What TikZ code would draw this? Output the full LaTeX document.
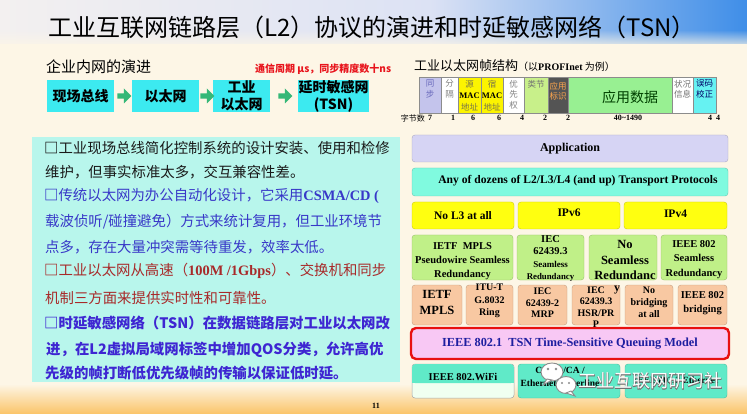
\documentclass[tikz,border=0pt]{standalone}
\usepackage{fontspec}
\setmainfont{Liberation Serif}
\newfontfamily\cjk{Noto Sans CJK SC}
\newfontfamily\markoutline{Noto Sans CJK SC}[FakeBold=4]
\usetikzlibrary{shapes.arrows,calc,fadings}
\newcommand\fsz[2]{\fontsize{#1}{#2}\selectfont}
\newcommand\bsq{{\bfseries □}}

\definecolor{bgcream}{HTML}{FDF6E6}
\definecolor{bandlight}{HTML}{F3F0F0}
\definecolor{bandmid}{HTML}{DCE2F4}
\definecolor{bandblue}{HTML}{3F8EE8}
\definecolor{footorange}{HTML}{FBC468}
\definecolor{evocyan}{HTML}{3CEAF0}
\definecolor{evogreen}{HTML}{35B877}
\definecolor{notered}{HTML}{E8141C}
\definecolor{textpanel}{HTML}{B8F6EC}
\definecolor{lineblack}{HTML}{1A1A1A}
\definecolor{lineblue}{HTML}{3838C8}
\definecolor{linered}{HTML}{A82A2A}
\definecolor{lineviolet}{HTML}{3E26D2}
\definecolor{syncfill}{HTML}{C4C4EC}
\definecolor{macyellow}{HTML}{FCF400}
\definecolor{typegreen}{HTML}{C8F08A}
\definecolor{idgray}{HTML}{545454}
\definecolor{datagreen}{HTML}{98F092}
\definecolor{crccyan}{HTML}{66F2F2}
\definecolor{appfill}{HTML}{D6D4F4}
\definecolor{transfill}{HTML}{80FADF}
\definecolor{l3yellow}{HTML}{FFFF10}
\definecolor{redgreen}{HTML}{C0F088}
\definecolor{bridgeorange}{HTML}{F8C8A2}
\definecolor{tsnpink}{HTML}{F8C8F4}
\definecolor{tsnred}{HTML}{E81010}
\definecolor{tsnblue}{HTML}{1E1EA0}
\definecolor{phyaqua}{HTML}{60EAC8}

\begin{document}
\begin{tikzpicture}[x=1pt,y=-1pt,
  evobox/.style={fill=evocyan, minimum height=32pt, inner sep=0pt, align=center,
    font=\cjk\bfseries\fsz{14}{17}},
  evoarrow/.style={single arrow, fill=evogreen, draw=none, minimum height=14pt,
    minimum width=15pt, single arrow head extend=3pt, inner sep=1.5pt},
  fcell/.style={draw=black!45, line width=0.4pt, minimum height=36pt, inner sep=0pt},
  ftext/.style={font=\cjk\fsz{8.5}{10.5}, align=center, inner sep=0pt, anchor=north},
  bytes/.style={font=\bfseries\fsz{8}{9}, inner sep=0pt},
  ln/.style={anchor=west, inner sep=0pt, font=\cjk\fsz{14.4}{16}},
  sbox/.style={rounded corners=3pt, draw=#1!80!black, line width=0.4pt, fill=#1,
    inner sep=0pt, align=center},
  stxt/.style={font=\bfseries\fsz{10.5}{13}, align=center, inner sep=0pt}]

% page and its bands
\useasboundingbox (0,0) rectangle (747,414);
\fill[bgcream] (0,0) rectangle (747,414);
\shade[left color=bandlight, right color=bandmid] (0,0) rectangle (430,44);
\shade[left color=bandmid, right color=bandblue] (430,0) rectangle (747,44);
\fill[bgcream, path fading=north] (0,30) rectangle (747,50);
\shade[top color=bgcream, bottom color=footorange] (0,384) rectangle (747,414);

% title
\node[font=\cjk\fsz{24}{28}, inner sep=0pt] (title) at (372,27)
  {工业互联网链路层（L2）协议的演进和时延敏感网络（TSN）};

% evolution of the enterprise network
\node[anchor=west, font=\cjk\fsz{15}{17}, inner sep=0pt] (evotitle) at (46,67) {企业内网的演进};
\node[anchor=west, font=\cjk\bfseries\fsz{10}{12}, text=notered, inner sep=0pt] (evonote) at (255,69)
  {通信周期 μs，同步精度数十ns};
\node[evobox, minimum width=67pt] (fieldbus) at (80.5,96) {现场总线};
\node[evobox, minimum width=67pt] (ether) at (165.5,96) {以太网};
\node[evobox, minimum width=57pt] (indeth) at (241.5,96) {工业\\以太网};
\node[evobox, minimum width=71pt] (tsn) at (333.5,96) {延时敏感网\\(TSN)};
\node[evoarrow] (a1) at ($(fieldbus.east)!0.5!(ether.west)$) {};
\node[evoarrow] (a2) at ($(ether.east)!0.5!(indeth.west)$) {};
\node[evoarrow] (a3) at ($(indeth.east)!0.5!(tsn.west)$) {};

% PROFInet frame structure
\node[anchor=west, inner sep=0pt] (frametitle) at (414,66)
  {\cjk\fsz{13}{15}工业以太网帧结构\fsz{10}{12}（以\normalfont\bfseries PROFInet\cjk\mdseries\ 为例）};
\node[fcell, fill=syncfill, minimum width=22pt] (fsync) at (430,95) {};
\node[fcell, fill=white, minimum width=17pt] (fdelim) at (449.5,95) {};
\node[fcell, fill=macyellow, minimum width=23pt] (fsrc) at (469.5,95) {};
\node[fcell, fill=macyellow, minimum width=22pt] (fdst) at (492,95) {};
\node[fcell, fill=white, minimum width=21pt] (fprio) at (513.5,95) {};
\node[fcell, fill=typegreen, minimum width=24pt] (ftype) at (536,95) {};
\node[fcell, fill=idgray, minimum width=20pt] (fid) at (558,95) {};
\node[fcell, fill=datagreen, minimum width=104pt] (fdata) at (620,95) {};
\node[fcell, fill=white, minimum width=21pt] (fstat) at (682.5,95) {};
\node[fcell, fill=crccyan, minimum width=23pt] (fcrc) at (704.5,95) {};

\node[ftext, text=black!45!blue!60] (tsync) at ($(fsync.north)+(0,3)$) {同\\步};
\node[ftext, text=black!50] (tdelim) at ($(fdelim.north)+(0,3)$) {分\\隔};
\node[ftext, text=black!60!yellow] (tsrc) at ($(fsrc.north)+(0,3)$)
  {源\\[1pt]\normalfont\bfseries\textcolor{black}{MAC}\\[1pt]地址};
\node[ftext, text=black!60!yellow] (tdst) at ($(fdst.north)+(0,3)$)
  {宿\\[1pt]\normalfont\bfseries\textcolor{black}{MAC}\\[1pt]地址};
\node[ftext, text=black!50] (tprio) at ($(fprio.north)+(0,3)$) {优\\先\\权};
\node[ftext, text=black!55] (ttype) at ($(ftype.north)+(0,3)$) {类节};
\node[ftext, text=orange!70!white] (tid) at ($(fid.north)+(0,5)$) {应用\\标识};
\node[font=\cjk\fsz{14}{16}, text=black!75!green, inner sep=0pt] (tdata) at (630,97) {应用数据};
\node[ftext, text=black!55] (tstat) at ($(fstat.north)+(0,3)$) {状况\\信息};
\node[ftext, text=black!60!blue] (tcrc) at ($(fcrc.north)+(0,3)$) {误码\\校正};

\node[anchor=east, font=\cjk\fsz{8}{9}, inner sep=0pt] (bytelabel) at (425,118) {字节数};
\node[bytes] (b1) at (430,118) {7};
\node[bytes] (b2) at (453,118) {1};
\node[bytes] (b3) at (473,118) {6};
\node[bytes] (b4) at (499,118) {6};
\node[bytes] (b5) at (522,118) {4};
\node[bytes] (b6) at (545,118) {2};
\node[bytes] (b7) at (568,118) {2};
\node[bytes] (b8) at (628,118) {40\char"7E 1490};
\node[bytes] (b9) at (710,118) {4};
\node[bytes] (b10) at (718,118) {4};

% text panel
\fill[textpanel] (32,137) rectangle (400,382);
\node[ln, text=lineblack] (l1) at (44,148) {\bsq 工业现场总线简化控制系统的设计安装、使用和检修};
\node[ln, text=lineblack] (l2) at (45,172) {维护，但事实标准太多，交互兼容性差。};
\node[ln, text=lineblue] (l3) at (44,196)
  {\bsq 传统以太网为办公自动化设计，它采用\normalfont\bfseries CSMA/CD (};
\node[ln, text=lineblue] (l4) at (45,222) {载波侦听/碰撞避免）方式来统计复用，但工业环境节};
\node[ln, text=lineblue] (l5) at (45,247) {点多，存在大量冲突需等待重发，效率太低。};
\node[ln, text=linered] (l6) at (44,271)
  {\bsq 工业以太网从高速（\normalfont\bfseries 100M /1Gbps\cjk\mdseries）、交换机和同步};
\node[ln, text=linered] (l7) at (45,298) {机制三方面来提供实时性和可靠性。};
\node[ln, text=lineviolet, font=\cjk\bfseries\fsz{14.4}{16}] (l8) at (44,323)
  {□时延敏感网络（TSN）在数据链路层对工业以太网改};
\node[ln, text=lineviolet, font=\cjk\bfseries\fsz{14.4}{16}] (l9) at (46,350)
  {进，在L2虚拟局域网标签中增加QOS分类，允许高优};
\node[ln, text=lineviolet, font=\cjk\bfseries\fsz{14.4}{16}] (l10) at (45,373)
  {先级的帧打断低优先级帧的传输以保证低时延。};

% protocol stack
\node[sbox=appfill, minimum width=316pt, minimum height=27pt, font=\bfseries\fsz{12}{14}] (app) at (570,148.5) {Application};
\node[sbox=transfill, minimum width=316pt, minimum height=28pt] (trans) at (570,182) {};
\node[font=\bfseries\fsz{11.6}{14}, inner sep=0pt] (transtxt) at (578,181)
  {Any of dozens of L2/L3/L4 (and up) Transport Protocols};

\node[sbox=l3yellow, minimum width=102pt, minimum height=27pt, font=\bfseries\fsz{11.5}{14}] (nol3) at (463,215.5) {No L3 at all};
\node[sbox=l3yellow, minimum width=102pt, minimum height=27pt] (ipv6) at (569,215.5) {};
\node[sbox=l3yellow, minimum width=103pt, minimum height=27pt] (ipv4) at (675.5,215.5) {};
\node[font=\bfseries\fsz{11.5}{14}, inner sep=0pt] (ipv6t) at (569,213) {IPv6};
\node[font=\bfseries\fsz{11.5}{14}, inner sep=0pt] (ipv4t) at (675.5,214) {IPv4};

\node[sbox=redgreen, minimum width=101pt, minimum height=45pt] (red1) at (462.5,257.5) {};
\node[sbox=redgreen, minimum width=67pt, minimum height=45pt] (red2) at (550.5,257.5) {};
\node[sbox=redgreen, minimum width=68pt, minimum height=45pt] (red3) at (623,257.5) {};
\node[sbox=redgreen, minimum width=66pt, minimum height=45pt] (red4) at (694,257.5) {};
\node[stxt, font=\bfseries\fsz{10.5}{14}] (red1t) at (462.5,261) {IETF\ \ MPLS\\Pseudowire Seamless\\Redundancy};
\node[stxt, font=\bfseries\fsz{10.5}{12.5}] (red2t) at (550.5,258.5)
  {IEC\\62439.3\\{\fsz{9}{11}Seamless}\\{\fsz{8.8}{11}Redundancy}};
\node[stxt, font=\bfseries\fsz{12.5}{15.5}] (red3t) at (625,260) {No\\Seamless\\Redundanc};
\node[stxt, font=\bfseries\fsz{10.5}{14.5}] (red4t) at (694,259.5) {IEEE 802\\Seamless\\Redundancy};

\node[sbox=bridgeorange, minimum width=50pt, minimum height=40pt] (br1) at (437,305) {};
\node[sbox=bridgeorange, minimum width=47pt, minimum height=40pt] (br2) at (489.5,305) {};
\node[sbox=bridgeorange, minimum width=49pt, minimum height=40pt] (br3) at (542.5,305) {};
\node[sbox=bridgeorange, minimum width=48pt, minimum height=40pt] (br4) at (596,305) {};
\node[sbox=bridgeorange, minimum width=48pt, minimum height=40pt] (br5) at (649,305) {};
\node[sbox=bridgeorange, minimum width=49pt, minimum height=40pt] (br6) at (702.5,305) {};
\node[stxt, font=\bfseries\fsz{12.5}{16}] (br1t) at (437,302) {IETF\\MPLS};
\node[stxt, font=\bfseries\fsz{10}{12.5}] (br2t) at (489.5,301) {ITU-T\\G.8032\\Ring};
\node[stxt, font=\bfseries\fsz{10}{11.5}] (br3t) at (542.5,303) {IEC\\62439-2\\MRP};
\node[stxt, font=\bfseries\fsz{10}{11.5}] (br4t) at (596,307) {IEC\\62439.3\\HSR/PR\\P};
\node[stxt, font=\bfseries\fsz{10}{12}] (br5t) at (649,302) {No\\bridging\\at all};
\node[stxt, font=\bfseries\fsz{10.5}{14}] (br6t) at (702.5,303) {IEEE 802\\bridging};
\node[stxt, font=\bfseries\fsz{12}{13}] (wrapy) at (617,290) {y};

\node[rounded corners=5pt, draw=tsnred, line width=2.4pt, fill=tsnpink, minimum width=318pt,
  minimum height=31pt, inner sep=0pt, text=tsnblue, font=\bfseries\fsz{12.3}{14}] (tsnq) at (570,343.5)
  {IEEE 802.1\ \ TSN Time-Sensitive Queuing Model};

\node[rounded corners=3pt, draw=black!35, line width=0.5pt, fill=white!94!green, minimum width=102pt,
  minimum height=34pt, inner sep=0pt] (wifi) at (463,381) {};
\fill[phyaqua, rounded corners=3pt] ($(wifi.north west)+(0.4,0.4)$) rectangle ($(wifi.east)+(-0.4,2)$);
\fill[phyaqua] ($(wifi.west)+(0.4,-6)$) rectangle ($(wifi.east)+(-0.4,2)$);
\node[font=\bfseries\fsz{10.5}{12}, inner sep=0pt] (wifit) at (463,377) {IEEE 802.WiFi};
\node[sbox=phyaqua, minimum width=102pt, minimum height=34pt] (csma) at (569,381) {};
\node[sbox=phyaqua, minimum width=102pt, minimum height=34pt] (eth) at (676,381) {};
\node[stxt, font=\bfseries\fsz{9.5}{13}] (csmat) at (560,377) {CSMA/CA /\\Ethernet Powerline};
\node[stxt, font=\bfseries\fsz{9.5}{12}] (etht) at (676,380) {IEEE 802.3 Ethernet};

% page number
\node[font=\bfseries\fsz{8}{9}, inner sep=0pt] (pageno) at (376,406) {11};

% channel mark
\begin{scope}[line width=0.9pt, draw=black!45, fill=white]
  \filldraw (552,372) ellipse [x radius=11, y radius=9];
  \filldraw (547,379) -- (543,385) -- (552,380) -- cycle;
  \fill[black!45] (548,369) circle (1.3) (556,369) circle (1.3);
  \filldraw (566,385) ellipse [x radius=10, y radius=8.5];
  \filldraw (571,391) -- (575,396) -- (566,393) -- cycle;
  \fill[black!45] (562,383) circle (1.2) (569,383) circle (1.2);
\end{scope}
\node[anchor=west, font=\markoutline\fsz{18}{20}, text=black!55, inner sep=0pt] (markshadow) at (578,381) {工业互联网研习社};
\node[anchor=west, font=\cjk\fsz{18}{20}, text=white, inner sep=0pt] (mark) at (578,381) {工业互联网研习社};
\end{tikzpicture}
\end{document}
